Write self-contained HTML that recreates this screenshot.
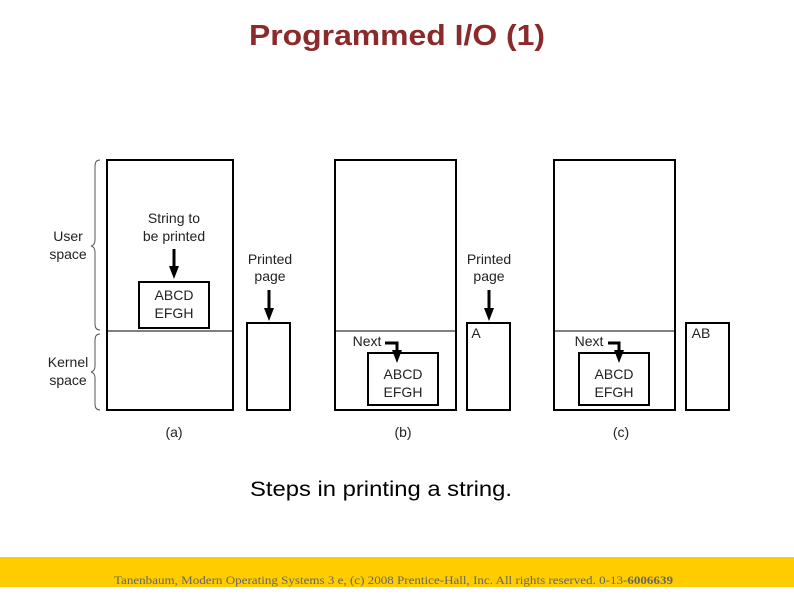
<!DOCTYPE html>
<html><head><meta charset="utf-8"><style>
html,body{margin:0;padding:0;background:#fff;}
svg{display:block;}
</style></head><body>
<svg width="794" height="595" viewBox="0 0 794 595" xmlns="http://www.w3.org/2000/svg" font-family="Liberation Sans, sans-serif">
<rect width="794" height="595" fill="#fff"/>
<text x="397" y="45" text-anchor="middle" font-size="29" font-weight="bold" fill="#8b2a2a" textLength="296" lengthAdjust="spacingAndGlyphs">Programmed I/O (1)</text>
<g fill="none" stroke="#000">
<path d="M100,160 Q95,160 95,166 L95,240 Q95,245 91,246 Q95,247 95,252 L95,324 Q95,330 100,330" stroke="#555" stroke-width="1"/>
<path d="M100,334 Q95,334 95,340 L95,366 Q95,371 91,372 Q95,373 95,378 L95,404 Q95,410 100,410" stroke="#555" stroke-width="1"/>
<rect x="107" y="160" width="126" height="250" stroke-width="2"/>
<line x1="107" y1="331" x2="233" y2="331" stroke-width="1"/>
<rect x="139" y="282" width="70" height="46" stroke-width="2"/>
<rect x="247" y="323" width="43" height="87" stroke-width="2"/>
<line x1="174" y1="249" x2="174" y2="268" stroke-width="3"/>
<line x1="269" y1="290" x2="269" y2="310" stroke-width="3"/>
<rect x="335" y="160" width="121" height="250" stroke-width="2"/>
<line x1="335" y1="331" x2="456" y2="331" stroke-width="1"/>
<rect x="368" y="353" width="70" height="52" stroke-width="2"/>
<rect x="467" y="323" width="43" height="87" stroke-width="2"/>
<line x1="489" y1="290" x2="489" y2="310" stroke-width="3"/>
<path d="M385,343 L397,343 L397,352" stroke-width="3"/>
<rect x="554" y="160" width="121" height="250" stroke-width="2"/>
<line x1="554" y1="331" x2="675" y2="331" stroke-width="1"/>
<rect x="579" y="353" width="70" height="52" stroke-width="2"/>
<rect x="686" y="323" width="43" height="87" stroke-width="2"/>
<path d="M608,343 L619,343 L619,352" stroke-width="3"/>
</g>
<g fill="#000">
<path d="M169,266 L179,266 L174,279 Z"/>
<path d="M264,308 L274,308 L269,321 Z"/>
<path d="M484,308 L494,308 L489,321 Z"/>
<path d="M392,350 L402,350 L397,363 Z"/>
<path d="M614,350 L624,350 L619,363 Z"/>
</g>
<g font-size="14" fill="#222" text-anchor="middle">
<text x="68" y="241">User</text><text x="68" y="259">space</text>
<text x="68" y="367">Kernel</text><text x="68" y="385">space</text>
<text x="174" y="223">String to</text><text x="174" y="241">be printed</text>
<text x="174" y="300">ABCD</text><text x="174" y="318">EFGH</text>
<text x="270" y="264">Printed</text><text x="270" y="281">page</text>
<text x="489" y="264">Printed</text><text x="489" y="281">page</text>
<text x="403" y="379">ABCD</text><text x="403" y="397">EFGH</text>
<text x="614" y="379">ABCD</text><text x="614" y="397">EFGH</text>
<text x="174" y="437">(a)</text><text x="403" y="437">(b)</text><text x="621" y="437">(c)</text>
<text x="367" y="346">Next</text><text x="589" y="346">Next</text>
<text x="476" y="338">A</text><text x="701" y="338">AB</text>
</g>
<text x="250" y="496" font-size="21" fill="#000" textLength="262" lengthAdjust="spacingAndGlyphs">Steps in printing a string.</text>
<rect x="0" y="557" width="794" height="30" fill="#ffcc00"/>
<text x="114" y="584" font-family="Liberation Serif, serif" font-size="12" fill="#666" textLength="559" lengthAdjust="spacingAndGlyphs">Tanenbaum, Modern Operating Systems 3 e, (c) 2008 Prentice-Hall, Inc. All rights reserved. 0-13-<tspan font-weight="bold">6006639</tspan></text>
</svg>
</body></html>
